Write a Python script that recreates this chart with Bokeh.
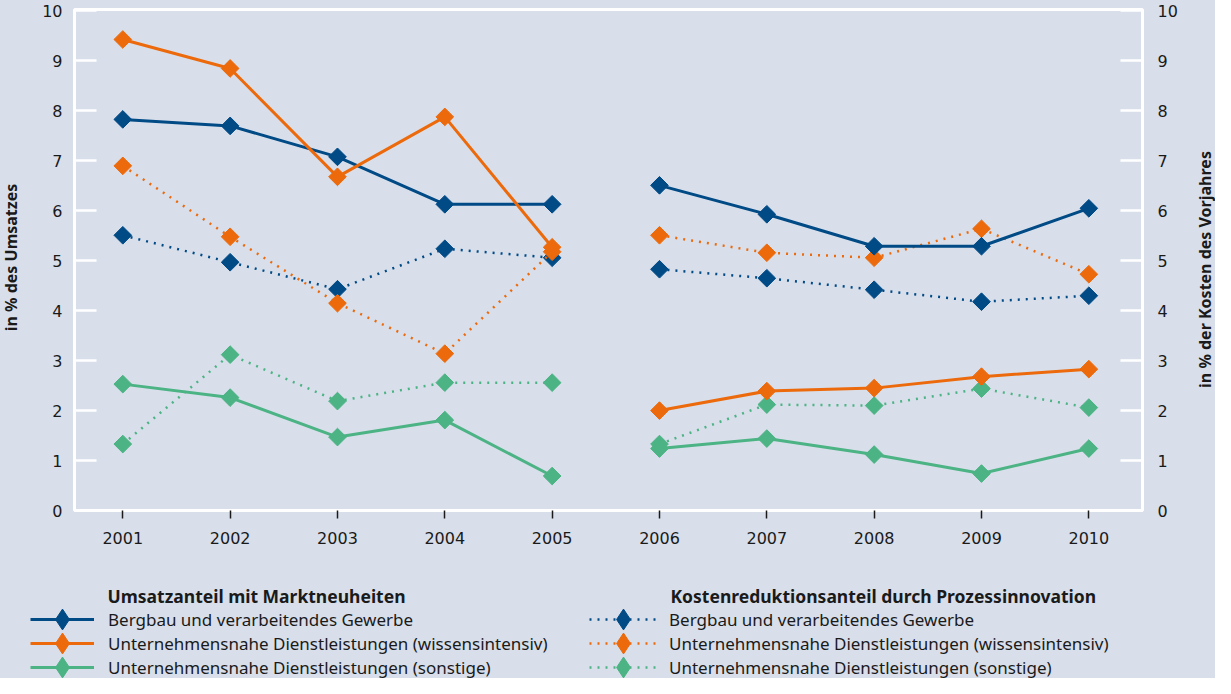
import math
from bokeh.plotting import figure
from bokeh.layouts import column, row
from bokeh.models import Range1d, LinearAxis, FixedTicker, Legend, LegendItem, Label, Plot
from bokeh.embed import file_html
from bokeh.resources import INLINE

# ---------------- data ----------------
years = [2001, 2002, 2003, 2004, 2005, 2006, 2007, 2008, 2009, 2010]

umsatz_bergbau = [7.83, 7.70, 7.08, 6.13, 6.13, 6.51, 5.93, 5.29, 5.29, 6.05]
umsatz_wissen = [9.43, 8.85, 6.68, 7.88, 5.27, 2.00, 2.39, 2.45, 2.68, 2.83]
umsatz_sonst = [2.53, 2.26, 1.47, 1.81, 0.69, 1.24, 1.44, 1.12, 0.74, 1.24]

kosten_bergbau = [5.51, 4.97, 4.43, 5.24, 5.06, 4.83, 4.65, 4.42, 4.18, 4.30]
kosten_wissen = [6.90, 5.48, 4.15, 3.14, 5.18, 5.51, 5.16, 5.06, 5.64, 4.73]
kosten_sonst = [1.33, 3.12, 2.19, 2.56, 2.56, 1.33, 2.12, 2.10, 2.44, 2.06]

series_labels = [
    "Bergbau und verarbeitendes Gewerbe",
    "Unternehmensnahe Dienstleistungen (wissensintensiv)",
    "Unternehmensnahe Dienstleistungen (sonstige)",
]
group_titles = ["Umsatzanteil mit Marktneuheiten",
                "Kostenreduktionsanteil durch Prozessinnovation"]
y_title_left = "in % des Umsatzes"
y_title_right = "in % der Kosten des Vorjahres"

# ---------------- style ----------------
BG = "#d8dfeb"
BLUE = "#004a86"
ORANGE = "#ec6a0c"
GREEN = "#4cb384"
TXT = "#1a1a1a"
FONT = "Noto Sans"
TICKFONT = "DejaVu Sans"

W = 1215
H1, H2 = 570, 108
LW, RW = 22, 29                 # side strips holding the axis titles
CW = W - LW - RW                # chart width
BL, BR, BT, BB = 52, 44, 9, 60
X0, X1 = 2000.55, 2010.5
Y0, Y1 = 0, 10.03
HAS_FA = "frame_align" in Plot.properties()


def strip(width, height):
    f = figure(width=width, height=height, output_backend="svg",
               toolbar_location=None, x_range=Range1d(0, width),
               y_range=Range1d(0, height), min_border=0,
               x_axis_location=None, y_axis_location=None)
    f.background_fill_color = BG
    f.border_fill_color = BG
    f.outline_line_color = None
    f.grid.visible = False
    if HAS_FA:
        f.frame_align = False
    return f


chart = figure(width=CW, height=H1, output_backend="svg", toolbar_location=None,
               x_range=Range1d(X0, X1), y_range=Range1d(Y0, Y1),
               min_border_left=BL, min_border_right=BR, min_border_top=BT,
               min_border_bottom=BB, y_axis_location=None)
chart.background_fill_color = BG
chart.border_fill_color = BG
chart.outline_line_color = "white"
chart.outline_line_width = 3
chart.grid.visible = False
if HAS_FA:
    chart.frame_align = False

# x axis
xa = chart.xaxis[0]
xa.ticker = FixedTicker(ticks=years)
xa.axis_line_color = None
xa.major_tick_out = 8
xa.major_tick_in = 0
xa.major_tick_line_color = TXT
xa.major_tick_line_width = 1.5
xa.minor_tick_line_color = None
xa.major_label_standoff = 13
xa.major_label_text_font = TICKFONT
xa.major_label_text_font_size = "16px"
xa.major_label_text_color = TXT


def style_y(ax, standoff):
    ax.ticker = FixedTicker(ticks=list(range(0, 11)))
    ax.axis_line_color = None
    ax.major_tick_in = 22
    ax.major_tick_out = 0
    ax.major_tick_line_color = "white"
    ax.major_tick_line_width = 2.5
    ax.minor_tick_line_color = None
    ax.major_label_standoff = standoff
    ax.major_label_text_font = TICKFONT
    ax.major_label_text_font_size = "16px"
    ax.major_label_text_color = TXT


yl = LinearAxis()
style_y(yl, 12)
chart.add_layout(yl, "left")
yr = LinearAxis()
style_y(yr, 15)
chart.add_layout(yr, "right")

SZ = 12.5
ANG = math.pi / 4


def line_kw(color, dotted):
    kw = dict(line_color=color, line_width=2.5 if dotted else 3)
    if dotted:
        kw["line_dash"] = "2 6"
    return kw


def draw(vals, color, dotted):
    kw = line_kw(color, dotted)
    for a, b in ((0, 5), (5, 10)):
        chart.line(years[a:b], vals[a:b], **kw)
        chart.scatter(years[a:b], vals[a:b], marker="square", angle=ANG,
                      size=SZ, fill_color=color, line_color=color)


colors = [BLUE, ORANGE, GREEN]
kosten = [kosten_bergbau, kosten_wissen, kosten_sonst]
umsatz = [umsatz_bergbau, umsatz_wissen, umsatz_sonst]

for v, c in zip(kosten, colors):
    draw(v, c, True)
for v, c in zip(umsatz, colors):
    draw(v, c, False)

# ---------------- axis title strips ----------------
lfig = strip(LW, H1)
lfig.add_layout(Label(x=10, y=H1 - 257, text=y_title_left, angle=math.pi / 2,
                      text_font=FONT, text_font_size="16px",
                      text_font_style="bold", text_color=TXT,
                      text_align="center", text_baseline="middle"))
rfig = strip(RW, H1)
rfig.add_layout(Label(x=18, y=H1 - 269, text=y_title_right, angle=math.pi / 2,
                      text_font=FONT, text_font_size="16px",
                      text_font_style="bold", text_color=TXT,
                      text_align="center", text_baseline="middle"))

# ---------------- legend panel ----------------
leg = strip(W, H2)
NAN = [float("nan")]
GH = 52            # glyph box height -> legend diamond ~21px tall
FIRST = 49         # centre of first legend row, from top of the panel
STEP = 24          # vertical distance between legend rows


def legend_renderers(color, dotted):
    lr = leg.line(NAN, NAN, **line_kw(color, dotted))
    sr = leg.scatter(NAN, NAN, marker="diamond", size=SZ,
                     fill_color=color, line_color=color)
    return [lr, sr]


def add_legend_column(dotted, x, gw, standoff):
    for i, (lab, c) in enumerate(zip(series_labels, colors)):
        item = LegendItem(label=lab, renderers=legend_renderers(c, dotted))
        y = H2 - (FIRST + STEP * i) - GH / 2
        leg.add_layout(Legend(items=[item], location=(x, int(round(y))),
                              orientation="vertical", glyph_width=gw,
                              glyph_height=GH, label_height=21,
                              label_standoff=standoff, spacing=0, padding=0,
                              margin=0, border_line_color=None,
                              background_fill_alpha=0, label_text_font=FONT,
                              label_text_font_size="17px",
                              label_text_color=TXT))


add_legend_column(False, 30, 64, 14)
add_legend_column(True, 589, 68, 12)

for fx, t in ((107, group_titles[0]), (670, group_titles[1])):
    leg.add_layout(Label(x=fx, y=H2 - 25, text=t, text_font=FONT,
                         text_font_size="17.5px", text_font_style="bold",
                         text_color=TXT, text_baseline="middle",
                         text_align="left"))

top = row(lfig, chart, rfig, spacing=0, styles={"background-color": BG})
p = column(top, leg, spacing=0, styles={"background-color": BG})

open("out.html", "w").write(file_html(p, INLINE))
